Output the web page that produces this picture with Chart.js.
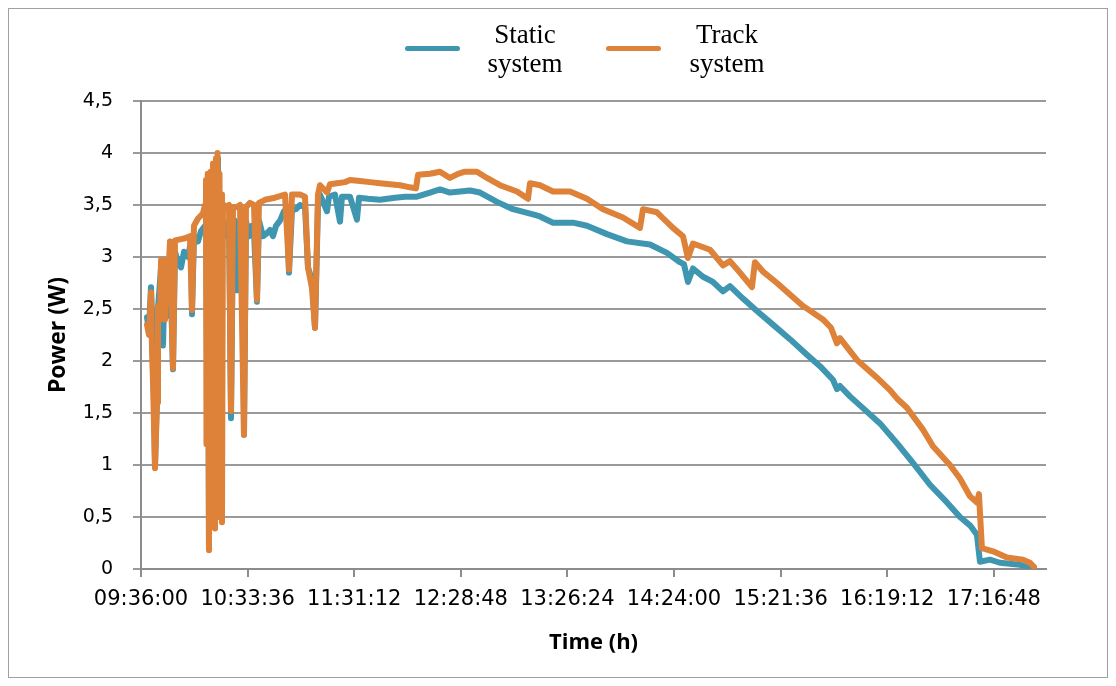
<!DOCTYPE html>
<html>
<head>
<meta charset="utf-8">
<script src="https://cdn.jsdelivr.net/npm/chart.js@4.4.1/dist/chart.umd.min.js"></script>
<style>
  body { margin: 0; background: #fff; }
  #wrap { position: relative; width: 1116px; height: 686px; }
  #frame { position: absolute; left: 8px; top: 8px; width: 1100px; height: 670px; border: 1px solid #a0a0a0; box-sizing: border-box; pointer-events: none; }
  .legText { position: absolute; top: 20px; width: 100px; font-family: "Liberation Serif", serif; font-size: 27px; line-height: 29px; text-align: center; color: #000; }
  .legLine { position: absolute; top: 46px; width: 55px; height: 5px; border-radius: 3px; }
</style>
</head>
<body>
<div id="wrap">
  <canvas id="powerChart"></canvas>
  <div id="frame"></div>
  <div id="legend"></div>
</div>
<script>
// Static system samples (time, W)
const staticTimes = ["09:39:14","09:40:19","09:41:24","09:42:29","09:43:34","09:44:39","09:45:11","09:46:49","09:47:53","09:48:58",
  "09:50:03","09:51:08","09:51:40","09:52:45","09:53:17","09:54:22","09:55:59","09:57:37","09:59:14","10:01:24",
  "10:03:01","10:03:33","10:04:38","10:06:48","10:08:25","10:10:35","10:11:07","10:11:40","10:12:12","10:12:44",
  "10:13:17","10:13:49","10:14:22","10:14:54","10:15:26","10:15:59","10:16:31","10:17:36","10:18:08","10:19:13",
  "10:20:51","10:22:28","10:23:33","10:24:38","10:25:43","10:26:47","10:27:52","10:28:57","10:30:02","10:31:07",
  "10:31:39","10:32:44","10:34:21","10:35:58","10:37:03","10:38:40","10:39:45","10:41:55","10:43:32","10:45:42",
  "10:47:19","10:48:56","10:51:06","10:53:16","10:54:53","10:55:58","10:57:35","10:59:45","11:01:55","11:04:37",
  "11:06:14","11:08:23","11:10:01","11:11:38","11:12:43","11:16:30","11:17:35","11:20:49","11:23:31","11:24:36",
  "11:28:55","11:32:42","11:33:47","11:38:39","11:45:08","11:53:14","11:58:38","12:05:07","12:12:09","12:17:33",
  "12:22:57","12:28:22","12:33:46","12:39:10","12:48:21","12:56:59","13:07:48","13:11:35","13:18:36","13:29:25",
  "13:36:58","13:47:47","13:58:35","14:11:01","14:20:12","14:27:13","14:29:23","14:31:32","14:34:15","14:39:39",
  "14:45:03","14:50:27","14:54:14","15:01:16","15:08:49","15:17:28","15:26:39","15:35:50","15:42:52","15:49:53",
  "15:52:03","15:53:40","15:59:04","16:07:11","16:15:17","16:24:28","16:33:07","16:42:18","16:51:29","16:58:31",
  "17:03:55","17:07:41","17:09:19","17:14:43","17:20:07","17:30:55","17:36:20"];
const staticPower = [2.42,2.3,2.71,2.2,1.0,1.7,2.5,2.9,2.15,2.9,
  2.43,2.55,3.1,2.3,1.92,3.05,2.95,2.9,3.05,3.0,
  3.15,2.45,3.2,3.15,3.25,3.3,3.6,2.0,3.7,0.2,
  3.5,3.75,1.0,3.85,3.5,0.4,3.9,3.95,1.64,3.35,
  3.3,3.2,3.35,1.45,3.3,3.35,2.68,3.1,2.75,3.4,
  1.29,3.35,3.2,3.3,3.25,2.57,3.35,3.2,3.22,3.26,
  3.2,3.3,3.35,3.44,3.47,2.85,3.45,3.46,3.5,3.48,
  2.9,2.78,2.32,3.5,3.6,3.44,3.58,3.6,3.34,3.58,
  3.58,3.36,3.57,3.56,3.55,3.57,3.58,3.58,3.62,3.65,
  3.62,3.63,3.64,3.62,3.53,3.46,3.41,3.39,3.33,3.33,
  3.30,3.22,3.15,3.12,3.04,2.95,2.93,2.76,2.89,2.81,
  2.76,2.67,2.72,2.60,2.48,2.35,2.21,2.06,1.95,1.82,
  1.73,1.76,1.66,1.53,1.40,1.21,1.02,0.81,0.64,0.50,
  0.42,0.33,0.07,0.09,0.06,0.04,0.02];

// Track system samples (time, W)
const trackTimes = ["09:39:14","09:40:19","09:41:24","09:41:56","09:42:29","09:43:34","09:44:39","09:45:11","09:46:16","09:46:49",
  "09:47:53","09:48:26","09:48:58","09:50:03","09:51:40","09:52:45","09:53:17","09:54:22","09:57:04","09:59:46",
  "10:02:28","10:03:33","10:04:38","10:06:48","10:09:30","10:10:35","10:11:07","10:11:23","10:11:40","10:11:56",
  "10:12:12","10:12:44","10:13:17","10:13:33","10:13:49","10:14:22","10:14:54","10:15:26","10:15:43","10:15:59",
  "10:16:31","10:16:47","10:17:20","10:17:52","10:18:25","10:18:57","10:19:29","10:19:46","10:20:18","10:20:51",
  "10:21:56","10:23:33","10:24:38","10:25:43","10:27:52","10:29:29","10:31:39","10:32:44","10:34:53",
  "10:37:03","10:38:40","10:39:45","10:43:00","10:48:24","10:53:48","10:55:58","10:57:35","11:01:55","11:04:37",
  "11:06:14","11:08:23","11:10:01","11:11:38","11:12:43","11:16:30","11:18:07","11:21:54","11:26:13","11:28:55",
  "11:34:20","11:39:44","11:45:08","11:50:32","11:55:56","12:01:20","12:04:35","12:05:40","12:12:09","12:17:33",
  "12:22:57","12:27:17","12:31:04","12:37:32","12:42:56","12:49:58","12:59:09","13:05:06","13:06:11","13:11:35",
  "13:18:36","13:27:47","13:36:58","13:45:37","13:56:25","14:05:37","14:07:14","14:14:47","14:23:26","14:28:50",
  "14:31:32","14:34:15","14:43:26","14:50:27","14:54:14","14:59:38","15:06:07","15:07:44","15:12:04","15:19:38",
  "15:26:39","15:33:41","15:44:29","15:48:49","15:52:03","15:53:40","16:02:51","16:13:40","16:20:41","16:24:28",
  "16:29:52","16:38:31","16:43:55","16:53:06","16:58:31","17:03:55","17:07:41","17:08:46","17:10:23","17:16:20",
  "17:23:54","17:32:32","17:36:20","17:38:29"];
const trackPower = [2.35,2.25,2.66,2.1,1.8,0.97,1.6,2.53,2.4,2.97,
  2.9,2.4,2.97,2.55,3.15,2.3,1.93,3.16,3.17,3.18,
  3.2,2.49,3.3,3.37,3.42,3.5,3.74,1.2,3.5,2.0,
  3.8,0.18,3.6,0.6,3.82,0.5,3.9,1.5,3.8,0.39,
  3.95,0.8,4.0,0.5,3.8,0.6,3.6,0.45,3.5,3.5,
  3.48,3.5,1.52,3.48,3.48,3.5,1.29,3.48,3.52,
  3.5,2.59,3.52,3.55,3.57,3.6,2.88,3.6,3.6,3.58,
  2.9,2.7,2.32,3.6,3.69,3.62,3.7,3.71,3.72,3.74,
  3.73,3.72,3.71,3.70,3.69,3.67,3.66,3.79,3.80,3.82,
  3.76,3.80,3.82,3.82,3.76,3.69,3.63,3.56,3.71,3.69,
  3.63,3.63,3.56,3.46,3.38,3.28,3.46,3.43,3.28,3.20,
  2.99,3.13,3.07,2.92,2.96,2.85,2.71,2.95,2.86,2.75,
  2.64,2.53,2.40,2.32,2.17,2.22,2.01,1.84,1.72,1.64,
  1.55,1.34,1.18,1.0,0.87,0.70,0.64,0.72,0.20,0.17,
  0.11,0.09,0.06,0.02];

const seriesNames = [["Static", "system"], ["Track", "system"]];
const seriesColors = ["#3f96b1", "#dd8238"];

// x axis range and tick labels
const xMin = "09:36:00";
const xMax = "17:45:00";
const xTickLabels = ["09:36:00","10:33:36","11:31:12","12:28:48","13:26:24","14:24:00","15:21:36","16:19:12","17:16:48"];
const yTickStep = 0.5;

function toSec(t) {
  const p = t.split(":").map(Number);
  return p[0] * 3600 + p[1] * 60 + (p[2] || 0);
}
function fmtTime(s) {
  s = Math.round(s);
  const h = Math.floor(s / 3600), m = Math.floor((s % 3600) / 60), sec = s % 60;
  return [h, m, sec].map(v => String(v).padStart(2, "0")).join(":");
}
function toPoints(times, vals) {
  return times.map((t, i) => ({ x: toSec(t), y: vals[i] }));
}

// HTML legend
const legendPos = [{ line: 405, text: 475 }, { line: 606, text: 677 }];
const legend = document.getElementById("legend");
seriesNames.forEach((name, i) => {
  const line = document.createElement("div");
  line.className = "legLine";
  line.style.left = legendPos[i].line + "px";
  line.style.background = seriesColors[i];
  legend.appendChild(line);
  const txt = document.createElement("div");
  txt.className = "legText";
  txt.style.left = legendPos[i].text + "px";
  txt.innerHTML = name.join("<br>");
  legend.appendChild(txt);
});

const axisGray = "#8c8c8c";

new Chart(document.getElementById("powerChart"), {
  type: "line",
  data: {
    datasets: [
      {
        label: seriesNames[0].join(" "),
        data: toPoints(staticTimes, staticPower),
        borderColor: seriesColors[0],
        backgroundColor: seriesColors[0],
        borderWidth: 6,
        pointRadius: 0,
        borderJoinStyle: "round",
        borderCapStyle: "round",
        order: 2
      },
      {
        label: seriesNames[1].join(" "),
        data: toPoints(trackTimes, trackPower),
        borderColor: seriesColors[1],
        backgroundColor: seriesColors[1],
        borderWidth: 6,
        pointRadius: 0,
        borderJoinStyle: "round",
        borderCapStyle: "round",
        order: 1
      }
    ]
  },
  options: {
    responsive: true,
    maintainAspectRatio: false,
    animation: false,
    layout: { padding: { top: 101, right: 70, bottom: 0, left: 0 } },
    plugins: { legend: { display: false }, tooltip: { enabled: false } },
    scales: {
      x: {
        type: "linear",
        min: toSec(xMin),
        max: toSec(xMax),
        border: { color: axisGray, width: 2 },
        grid: { drawOnChartArea: false, drawTicks: true, tickLength: 8, color: axisGray, lineWidth: 2 },
        ticks: {
          autoSkip: false,
          maxRotation: 0,
          padding: 10,
          color: "#000",
          font: { family: "DejaVu Sans", size: 21 },
          callback: v => fmtTime(v)
        },
        afterBuildTicks: s => { s.ticks = xTickLabels.map(t => ({ value: toSec(t) })); },
        title: {
          display: true, text: "Time (h)", color: "#000",
          font: { family: "Open Sans", size: 22, weight: "bold" },
          padding: { top: 0, bottom: 30 }
        },
        afterFit: s => { s.height = 117; }
      },
      y: {
        min: 0,
        max: 4.5,
        border: { color: axisGray, width: 2 },
        grid: { color: "#9a9a9a", lineWidth: 2, tickLength: 8 },
        ticks: {
          stepSize: yTickStep,
          padding: 20,
          color: "#000",
          font: { family: "DejaVu Sans", size: 19 },
          callback: v => String(v).replace(".", ",")
        },
        title: {
          display: true, text: "Power (W)", color: "#000",
          font: { family: "Open Sans", size: 23, weight: "bold" },
          padding: { top: 45, bottom: 0 }
        },
        afterFit: s => { s.width = 141; }
      }
    }
  }
});
</script>
</body>
</html>
